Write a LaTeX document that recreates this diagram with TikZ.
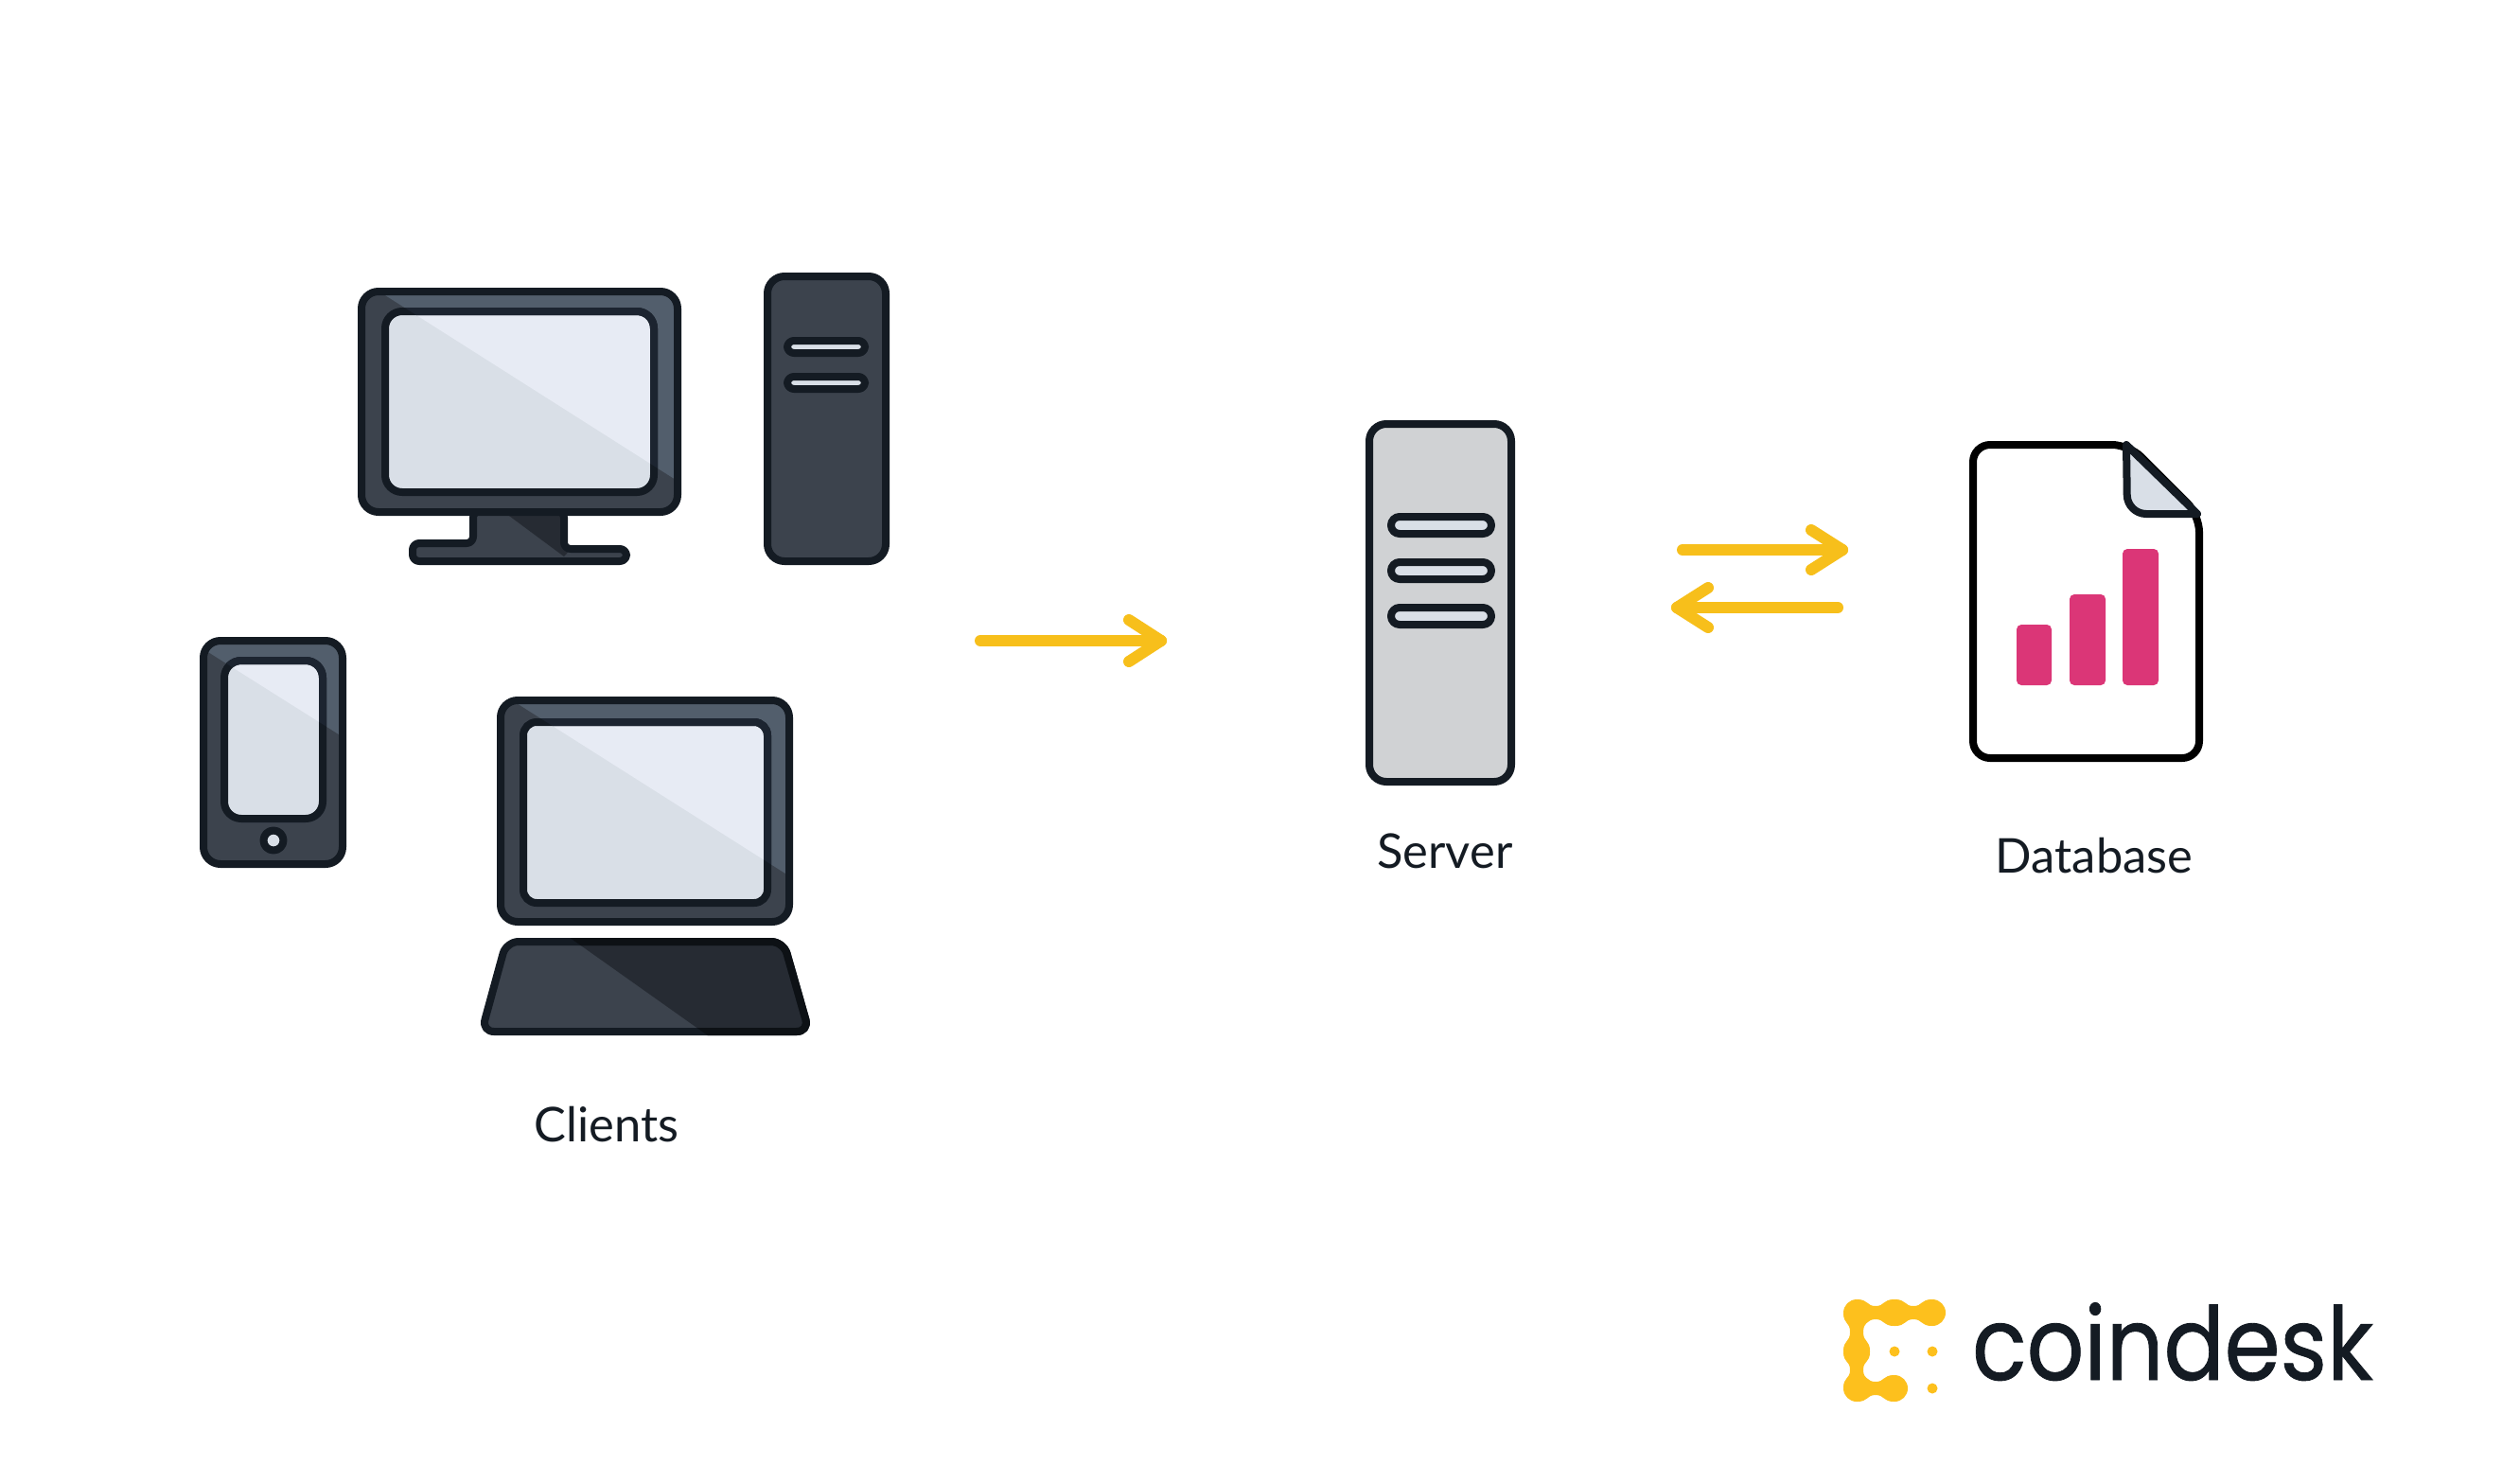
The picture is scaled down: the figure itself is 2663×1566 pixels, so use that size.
\documentclass[tikz,border=0pt]{standalone}
\usepackage{fontspec}
\setmainfont{Lato}
\newfontfamily\logofont[FakeBold=0.8]{Poppins}
\usetikzlibrary{calc}
\definecolor{ink}{HTML}{141B23}
\definecolor{inklight}{HTML}{1C2430}
\definecolor{inkdark}{HTML}{0D1115}
\definecolor{bezdark}{HTML}{3C434D}
\definecolor{bezlight}{HTML}{525E6C}
\definecolor{scrdark}{HTML}{D9DFE7}
\definecolor{scrlight}{HTML}{E7EBF4}
\definecolor{shadecol}{HTML}{262B33}
\definecolor{srvgrey}{HTML}{D0D2D4}
\definecolor{arrowy}{HTML}{F7BF1B}
\definecolor{logoy}{HTML}{FDC01D}
\definecolor{barpink}{HTML}{DB3677}
\tikzset{
  outline/.style={line width=0.08cm,draw=ink,line join=round},
  rbig/.style={rounded corners=0.18cm},
  rslot/.style={rounded corners=0.07cm},
  flow/.style={line width=0.12cm,draw=arrowy,line cap=round,line join=round},
  caption/.style={font=\fontsize{14.4}{18}\selectfont,text=ink,anchor=base,inner sep=0pt},
  slotbox/.style={outline,fill=scrdark,rslot},
  bar/.style={fill=barpink,rounded corners=0.05cm},
  logoblob/.style={fill=logoy}
}
% #1 bezel rect, #2 frame rect, #3 sheen start, #4 sheen end, #5 frame radius
\newcommand\screenset[5]{%
  \coordinate (P) at ($#3!-0.5!#4$);
  \coordinate (Q) at ($#3!1.5!#4$);
  \fill[bezdark,rbig] #1;
  \begin{scope}
    \clip (P) -- (Q) -- (Q|-P) -- cycle;
    \fill[bezlight,rbig] #1;
  \end{scope}
  \fill[scrdark,rounded corners=#5] #2;
  \begin{scope}
    \clip (P) -- (Q) -- (Q|-P) -- cycle;
    \fill[scrlight,rounded corners=#5] #2;
  \end{scope}
  \draw[outline,rbig] #1;
  \draw[outline,rounded corners=#5] #2;
  \begin{scope}
    \clip (P) -- (Q) -- (Q|-P) -- cycle;
    \draw[outline,draw=inklight,rounded corners=#5] #2;
  \end{scope}
}
% logo necks between two big dots
\newcommand\hneck[3]{% x1,x2,y
  \fill[logoblob] (#1,#3-14) .. controls (#1+13,#3-14) and (#1+10,#3-7) .. ({(#1+#2)/2},#3-7)
    .. controls (#2-10,#3-7) and (#2-13,#3-14) .. (#2,#3-14) -- (#2,#3+14)
    .. controls (#2-13,#3+14) and (#2-10,#3+7) .. ({(#1+#2)/2},#3+7)
    .. controls (#1+10,#3+7) and (#1+13,#3+14) .. (#1,#3+14) -- cycle;}
\newcommand\vneck[3]{% y1,y2,x
  \fill[logoblob] (#3-14,#1) .. controls (#3-14,#1+13) and (#3-7,#1+9) .. (#3-7,{(#1+#2)/2})
    .. controls (#3-7,#2-9) and (#3-14,#2-13) .. (#3-14,#2) -- (#3+14,#2)
    .. controls (#3+14,#2-13) and (#3+7,#2-9) .. (#3+7,{(#1+#2)/2})
    .. controls (#3+7,#1+9) and (#3+14,#1+13) .. (#3+14,#1) -- cycle;}
\begin{document}
\begin{tikzpicture}[x=0.01cm,y=-0.01cm]
\path[fill=white,use as bounding box] (0,0) rectangle (2663,1566);

% --- desktop monitor stand
\def\standpath{(500,540) -- (500,574) -- (436,574) -- (436,593) -- (662,593) -- (662,580) -- (596,580) -- (596,540) -- cycle}
\fill[bezdark,rslot] \standpath;
\begin{scope}
  \clip (538,545) -- (596,588) -- (640,540) -- cycle;
  \fill[shadecol] \standpath;
\end{scope}
\draw[outline,rslot] \standpath;
\screenset{(382,308) rectangle (716,541)}{(407,329) rectangle (691,520)}{(407,312)}{(711,505)}{0.18cm}

% --- tower
\draw[outline,fill=bezdark,rbig] (811,292) rectangle (936,593);
\draw[slotbox] (832,360) rectangle (914,373);
\draw[slotbox] (832,398) rectangle (914,411);

% --- phone
\screenset{(215,677) rectangle (362,913)}{(237,698) rectangle (341,865)}{(220,689)}{(358,776)}{0.18cm}
\draw[outline,fill=scrdark] (289,888) circle [radius=10.5];

% --- laptop
\screenset{(529,740) rectangle (834,974)}{(553,763) rectangle (811,954)}{(546,743)}{(830,923)}{0.14cm}
\def\kbpath{(535,995) -- (828,995) -- (855,1090) -- (509,1090) -- cycle}
\fill[bezdark,rounded corners=0.13cm] \kbpath;
\begin{scope}
  \clip (594,985) -- (752,1097) -- (900,1097) -- (900,985) -- cycle;
  \fill[shadecol,rounded corners=0.13cm] \kbpath;
\end{scope}
\draw[outline,rounded corners=0.13cm] \kbpath;
\begin{scope}
  \clip (594,985) -- (752,1097) -- (900,1097) -- (900,985) -- cycle;
  \draw[outline,draw=inkdark,rounded corners=0.13cm] \kbpath;
\end{scope}

% --- server
\draw[outline,fill=srvgrey,rbig] (1447,448) rectangle (1597,826);
\draw[slotbox,rounded corners=0.09cm] (1470,546) rectangle (1576,564);
\draw[slotbox,rounded corners=0.09cm] (1470,594) rectangle (1576,612);
\draw[slotbox,rounded corners=0.09cm] (1470,642) rectangle (1576,660);

% --- database document
\draw[line width=0.08cm,draw=black,fill=white,line join=round,rbig] (2085,470) -- (2250,470) -- (2324,544) -- (2324,801) -- (2085,801) -- cycle;
\draw[outline,fill=scrdark] (2247,470) [rounded corners=0.2cm] -- (2248,543) [sharp corners] -- (2322,543) -- cycle;
\fill[bar] (2131,660) rectangle (2168,724);
\fill[bar] (2187,628) rectangle (2225,724);
\fill[bar] (2243,580) rectangle (2281,724);

% --- arrows
\coordinate (clientsout) at (1036,677);
\coordinate (serverin) at (1227,677);
\coordinate (serverout) at (1778,581);
\coordinate (dbin) at (1947,581);
\coordinate (dbout) at (1942,642);
\coordinate (serverback) at (1772,642);
\draw[flow] (clientsout) -- (serverin);
\draw[flow] ($(serverin)+(-34,-22)$) -- (serverin) -- ($(serverin)+(-34,22)$);
\draw[flow] (serverout) -- (dbin);
\draw[flow] ($(dbin)+(-33,-21)$) -- (dbin) -- ($(dbin)+(-33,21)$);
\draw[flow] (dbout) -- (serverback);
\draw[flow] ($(serverback)+(33,-21)$) -- (serverback) -- ($(serverback)+(33,21)$);

% --- labels
\node[caption] (clients) at (641,1206) {Clients};
\node[caption] (server) at (1527,917) {Server};
\node[caption] (database) at (2213,922) {Database};

% --- logo
\fill[logoblob] (1962,1387) circle [radius=14];
\fill[logoblob] (2002,1387) circle [radius=14];
\fill[logoblob] (2042,1387) circle [radius=14];
\fill[logoblob] (1962,1428) circle [radius=14];
\fill[logoblob] (1962,1467) circle [radius=14];
\fill[logoblob] (2002,1467) circle [radius=14];
\hneck{1962}{2002}{1387}
\hneck{2002}{2042}{1387}
\hneck{1962}{2002}{1467}
\vneck{1387}{1428}{1962}
\vneck{1428}{1467}{1962}
\fill[logoblob] (2002,1428) circle [radius=5.5];
\fill[logoblob] (2042,1428) circle [radius=5.5];
\fill[logoblob] (2042,1467) circle [radius=5.5];
\node[anchor=base,inner sep=0pt,text=ink,xscale=0.885,font=\logofont\fontsize{30.5}{36}\selectfont] (coindesk) at (2296,1458) {coindesk};
\end{tikzpicture}
\end{document}
